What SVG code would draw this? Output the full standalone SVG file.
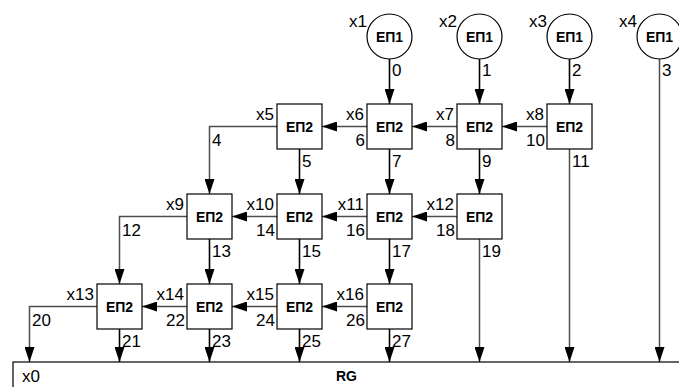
<svg xmlns="http://www.w3.org/2000/svg" width="679" height="387" viewBox="0 0 679 387">
<defs>
<marker id="ah" markerUnits="userSpaceOnUse" markerWidth="15" markerHeight="10" viewBox="0 0 15 10" refX="15" refY="5" orient="auto">
<path d="M0,0 L15,5 L0,10 z" fill="#000"/>
</marker>
<style>
.node{fill:#fff;stroke:#000;stroke-width:1.2}
.nt{font-family:"Liberation Sans",Arial,sans-serif;font-weight:bold;font-size:14px;text-anchor:middle}
.lb{font-family:"Liberation Sans",Arial,sans-serif;font-size:17px}
.e{text-anchor:end}
.v{fill:none;stroke:#000;stroke-width:1.6;marker-end:url(#ah)}
.g{fill:none;stroke:#4d4d4d;stroke-width:1.5;marker-end:url(#ah)}
</style>
</defs>
<rect width="679" height="387" fill="#fff"/>
<g id="connectors">
<path class="v" d="M389.5,59V104"/>
<path class="v" d="M479.5,59V104"/>
<path class="v" d="M569.5,59V104"/>
<path class="g" d="M659.5,59V362"/>
<path class="g" d="M547,126.5H502"/>
<path class="g" d="M457,126.5H412"/>
<path class="g" d="M367,126.5H322"/>
<path class="g" d="M277,126.5H209.5V194"/>
<path class="v" d="M299.5,149V194"/>
<path class="v" d="M389.5,149V194"/>
<path class="v" d="M479.5,149V194"/>
<path class="g" d="M569.5,149V362"/>
<path class="g" d="M457,216.5H412"/>
<path class="g" d="M367,216.5H322"/>
<path class="g" d="M277,216.5H232"/>
<path class="g" d="M187,216.5H119.5V284"/>
<path class="v" d="M209.5,239V284"/>
<path class="v" d="M299.5,239V284"/>
<path class="v" d="M389.5,239V284"/>
<path class="g" d="M479.5,239V362"/>
<path class="g" d="M367,306.5H322"/>
<path class="g" d="M277,306.5H232"/>
<path class="g" d="M187,306.5H142"/>
<path class="g" d="M97,306.5H29.5V362"/>
<path class="v" d="M119.5,329V362"/>
<path class="v" d="M209.5,329V362"/>
<path class="v" d="M299.5,329V362"/>
<path class="v" d="M389.5,329V362"/>
</g>
<g id="connector-labels" class="lb">
<text x="392" y="76">0</text>
<text x="482" y="76">1</text>
<text x="572" y="76">2</text>
<text x="662" y="76">3</text>
<text x="212" y="146">4</text>
<text x="302" y="167">5</text>
<text x="365" y="146" class="e">6</text>
<text x="392" y="167">7</text>
<text x="455" y="146" class="e">8</text>
<text x="482" y="167">9</text>
<text x="545" y="146" class="e">10</text>
<text x="572" y="167">11</text>
<text x="122" y="236">12</text>
<text x="212" y="257">13</text>
<text x="275" y="236" class="e">14</text>
<text x="302" y="257">15</text>
<text x="365" y="236" class="e">16</text>
<text x="392" y="257">17</text>
<text x="455" y="236" class="e">18</text>
<text x="482" y="257">19</text>
<text x="32" y="326">20</text>
<text x="122" y="347">21</text>
<text x="185" y="326" class="e">22</text>
<text x="212" y="347">23</text>
<text x="275" y="326" class="e">24</text>
<text x="302" y="347">25</text>
<text x="365" y="326" class="e">26</text>
<text x="392" y="347">27</text>
</g>
<g id="n-x1"><circle class="node" cx="389.5" cy="36.5" r="22.5"/><text class="nt" x="389.5" y="41.5">ЕП1</text><text class="lb e" x="367" y="27">x1</text></g>
<g id="n-x2"><circle class="node" cx="479.5" cy="36.5" r="22.5"/><text class="nt" x="479.5" y="41.5">ЕП1</text><text class="lb e" x="457" y="27">x2</text></g>
<g id="n-x3"><circle class="node" cx="569.5" cy="36.5" r="22.5"/><text class="nt" x="569.5" y="41.5">ЕП1</text><text class="lb e" x="547" y="27">x3</text></g>
<g id="n-x4"><circle class="node" cx="659.5" cy="36.5" r="22.5"/><text class="nt" x="659.5" y="41.5">ЕП1</text><text class="lb e" x="637" y="27">x4</text></g>
<g id="n-x5"><rect class="node" x="277" y="104" width="45" height="45"/><text class="nt" x="299.5" y="131.5">ЕП2</text><text class="lb e" x="274" y="120">x5</text></g>
<g id="n-x6"><rect class="node" x="367" y="104" width="45" height="45"/><text class="nt" x="389.5" y="131.5">ЕП2</text><text class="lb e" x="364" y="120">x6</text></g>
<g id="n-x7"><rect class="node" x="457" y="104" width="45" height="45"/><text class="nt" x="479.5" y="131.5">ЕП2</text><text class="lb e" x="454" y="120">x7</text></g>
<g id="n-x8"><rect class="node" x="547" y="104" width="45" height="45"/><text class="nt" x="569.5" y="131.5">ЕП2</text><text class="lb e" x="544" y="120">x8</text></g>
<g id="n-x9"><rect class="node" x="187" y="194" width="45" height="45"/><text class="nt" x="209.5" y="221.5">ЕП2</text><text class="lb e" x="184" y="210">x9</text></g>
<g id="n-x10"><rect class="node" x="277" y="194" width="45" height="45"/><text class="nt" x="299.5" y="221.5">ЕП2</text><text class="lb e" x="274" y="210">x10</text></g>
<g id="n-x11"><rect class="node" x="367" y="194" width="45" height="45"/><text class="nt" x="389.5" y="221.5">ЕП2</text><text class="lb e" x="364" y="210">x11</text></g>
<g id="n-x12"><rect class="node" x="457" y="194" width="45" height="45"/><text class="nt" x="479.5" y="221.5">ЕП2</text><text class="lb e" x="454" y="210">x12</text></g>
<g id="n-x13"><rect class="node" x="97" y="284" width="45" height="45"/><text class="nt" x="119.5" y="311.5">ЕП2</text><text class="lb e" x="94" y="300">x13</text></g>
<g id="n-x14"><rect class="node" x="187" y="284" width="45" height="45"/><text class="nt" x="209.5" y="311.5">ЕП2</text><text class="lb e" x="184" y="300">x14</text></g>
<g id="n-x15"><rect class="node" x="277" y="284" width="45" height="45"/><text class="nt" x="299.5" y="311.5">ЕП2</text><text class="lb e" x="274" y="300">x15</text></g>
<g id="n-x16"><rect class="node" x="367" y="284" width="45" height="45"/><text class="nt" x="389.5" y="311.5">ЕП2</text><text class="lb e" x="364" y="300">x16</text></g>
<g id="n-rg"><rect x="13" y="362" width="700" height="60" fill="#fff" stroke="#000" stroke-width="1.2"/><text class="lb" x="22" y="382">x0</text><text class="nt" x="346.5" y="381">RG</text></g>
</svg>
